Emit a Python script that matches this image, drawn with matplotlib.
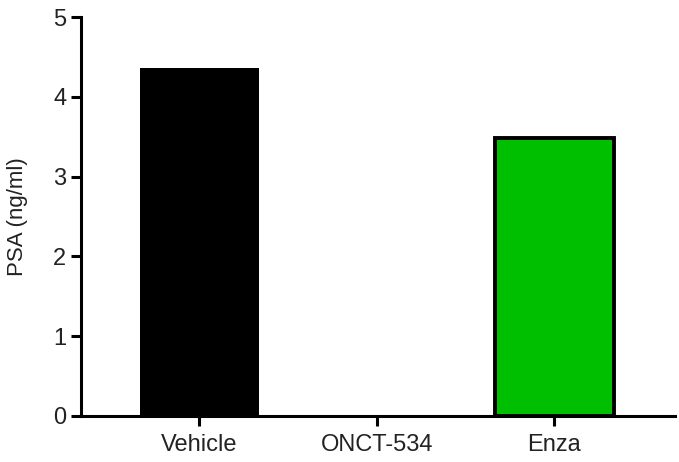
import matplotlib.pyplot as plt

plt.rcParams['font.family'] = ['Liberation Sans', 'DejaVu Sans']

groups = ["Vehicle", "ONCT-534", "Enza"]
psa = [4.36, 0.0, 3.48]
fills = ["#000000", "#ffffff", "#00bf00"]
edges = [0.0, 0.0, 2.8]

fig = plt.figure(figsize=(6.79, 4.62), dpi=100)
ax = fig.add_axes([0.12, 0.1002, 0.874, 0.8624])

x = range(len(groups))
ax.bar(x, psa, width=0.67, color=fills, edgecolor="black", linewidth=edges)

ax.set_xlim(-0.664, 2.68)
ax.set_ylim(0, 5)
ax.set_yticks([0, 1, 2, 3, 4, 5])
ax.set_xticks(list(x))
ax.set_xticklabels(groups)
ax.set_ylabel("PSA (ng/ml)", fontsize=16, color="#222222", labelpad=18)

for s in ["top", "right"]:
    ax.spines[s].set_visible(False)
for s in ["left", "bottom"]:
    ax.spines[s].set_linewidth(2.2)

ax.tick_params(axis="both", length=7, width=2.2, labelsize=17,
               labelcolor="#222222", direction="out")
ax.tick_params(axis="x", pad=6)
ax.tick_params(axis="y", pad=4)

fig.savefig("out.png", dpi=100)
